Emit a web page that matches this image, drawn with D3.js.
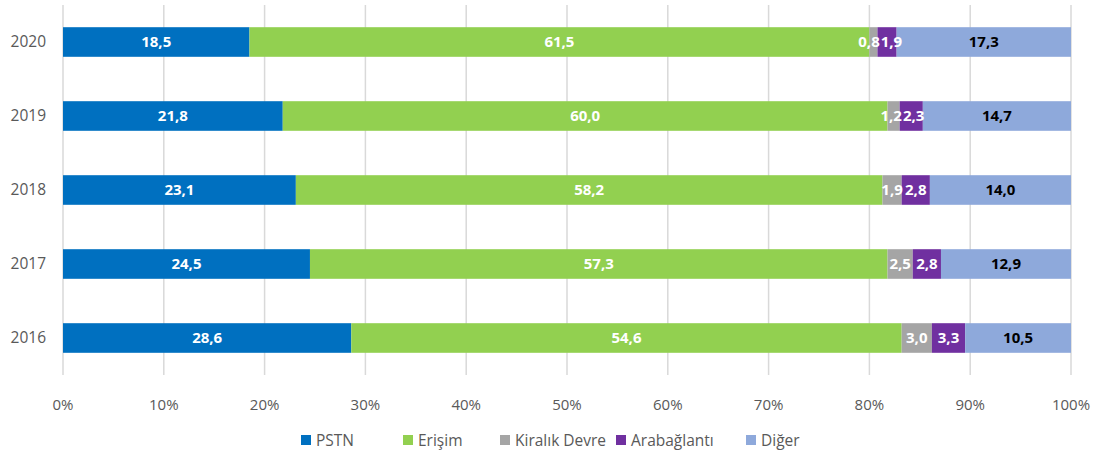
<!DOCTYPE html>
<html>
<head>
<meta charset="utf-8">
<script src="https://cdn.jsdelivr.net/npm/d3@7"></script>
<style>
  body { margin: 0; background: #fff; }
  text { font-family: "Open Sans", "Liberation Sans", sans-serif; }
</style>
</head>
<body>
<div id="chart"></div>
<script>
// data
const years = ['2020', '2019', '2018', '2017', '2016'];
const seriesNames = ['PSTN', 'Erişim', 'Kiralık Devre', 'Arabağlantı', 'Diğer'];
const pstn = [18.5, 21.8, 23.1, 24.5, 28.6];
const erisim = [61.5, 60.0, 58.2, 57.3, 54.6];
const kiralik = [0.8, 1.2, 1.9, 2.5, 3.0];
const arabaglanti = [1.9, 2.3, 2.8, 2.8, 3.3];
const diger = [17.3, 14.7, 14.0, 12.9, 10.5];
const xTicks = [0, 10, 20, 30, 40, 50, 60, 70, 80, 90, 100];

const colors = ['#0070C0', '#92D050', '#A5A5A5', '#7030A0', '#8EA9DB'];
const labelColors = ['#fff', '#fff', '#fff', '#fff', '#000'];

const width = 1097, height = 459;
const margin = { top: 5, right: 26, bottom: 84, left: 63 };

const svg = d3.select('#chart').append('svg')
  .attr('width', width)
  .attr('height', height);

const rows = years.map((y, i) => ({
  year: y,
  values: [pstn[i], erisim[i], kiralik[i], arabaglanti[i], diger[i]]
}));

const x = d3.scaleLinear().domain([0, 100]).range([margin.left, width - margin.right]);
const y = d3.scaleBand().domain(years)
  .range([margin.top, height - margin.bottom])
  .paddingInner(0.6).paddingOuter(0.3);

// gridlines
svg.append('g')
  .selectAll('line')
  .data(xTicks)
  .enter().append('line')
  .attr('x1', d => x(d))
  .attr('x2', d => x(d))
  .attr('y1', margin.top)
  .attr('y2', height - margin.bottom)
  .attr('stroke', '#d9d9d9')
  .attr('stroke-width', 1.5);

// x tick labels
svg.append('g')
  .selectAll('text')
  .data(xTicks)
  .enter().append('text')
  .attr('x', d => x(d))
  .attr('y', 410)
  .attr('text-anchor', 'middle')
  .style('font-size', '15px')
  .attr('fill', '#595959')
  .text(d => d + '%');

// y labels
svg.append('g')
  .selectAll('text')
  .data(years)
  .enter().append('text')
  .attr('x', 46)
  .attr('y', d => y(d) + y.bandwidth() / 2 + 5)
  .attr('text-anchor', 'end')
  .style('font-size', '15.5px')
  .attr('fill', '#595959')
  .text(d => d);

// stacked bars
rows.forEach(row => {
  let acc = 0;
  row.values.forEach((v, k) => {
    const x0 = acc;
    acc += v;
    svg.append('rect')
      .attr('x', x(x0))
      .attr('y', y(row.year))
      .attr('width', x(acc) - x(x0))
      .attr('height', y.bandwidth())
      .attr('fill', colors[k]);
  });

  // labels, pushed apart where the small segments would make them collide
  acc = 0;
  const labels = row.values.map((v, k) => {
    const mid = acc + v / 2;
    acc += v;
    const t = svg.append('text')
      .attr('x', x(mid))
      .attr('y', y(row.year) + y.bandwidth() / 2 + 5)
      .attr('text-anchor', 'middle')
      .style('font-size', '15px')
      .style('font-weight', 'bold')
      .attr('fill', labelColors[k])
      .text(v.toFixed(1).replace('.', ','));
    return { node: t, cx: x(mid), w: t.node().getComputedTextLength() };
  });
  for (let iter = 0; iter < 10; iter++) {
    for (let k = 0; k < labels.length - 1; k++) {
      const a = labels[k], b = labels[k + 1];
      const gap = (b.cx - b.w / 2) - (a.cx + a.w / 2) - 1;
      if (gap < 0) {
        a.cx += gap / 2;
        b.cx -= gap / 2;
      }
    }
  }
  labels.forEach(l => l.node.attr('x', l.cx));
});

// legend
const legendX = [301, 403, 500, 616, 746];
const legend = svg.append('g');
seriesNames.forEach((name, k) => {
  legend.append('rect')
    .attr('x', legendX[k])
    .attr('y', 435)
    .attr('width', 10)
    .attr('height', 10)
    .attr('fill', colors[k]);
  legend.append('text')
    .attr('x', legendX[k] + 15)
    .attr('y', 446)
    .style('font-size', '15.5px')
    .attr('fill', '#595959')
    .text(name);
});
</script>
</body>
</html>
